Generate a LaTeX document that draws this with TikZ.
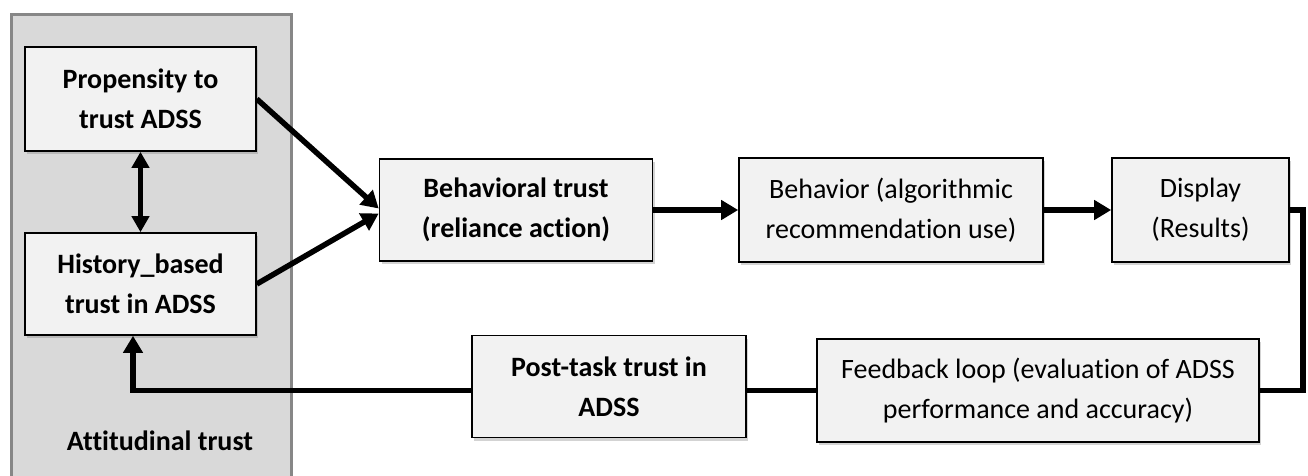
\documentclass[tikz,border=0pt]{standalone}
\usepackage{fontspec}
\setmainfont{Carlito}[Ligatures=NoCommon]
\usetikzlibrary{arrows.meta,shadows,positioning}
\definecolor{boxfill}{HTML}{F2F2F2}
\definecolor{groupfill}{HTML}{D9D9D9}
\definecolor{groupline}{HTML}{878787}
\tikzset{
  stepbox/.style={draw=black, line width=1.6pt, fill=boxfill, align=center,
    inner sep=0pt, font=\fontsize{28}{40}\selectfont,
    drop shadow={opacity=0.35, shadow xshift=2pt, shadow yshift=-3pt}},
  boldbox/.style={stepbox, font=\fontsize{28}{40}\selectfont\bfseries},
  flow/.style={line width=5.5pt, -{Triangle[length=17pt,width=19pt]}},
  flowline/.style={line width=5.5pt},
  twoway/.style={line width=5.5pt, {Triangle[length=16pt,width=17pt]}-{Triangle[length=16pt,width=17pt]}}
}
\begin{document}
\begin{tikzpicture}[x=1pt,y=-1pt]
\useasboundingbox (0,0) rectangle (1308,475);
% group container
\draw[draw=groupline, line width=3pt, fill=groupfill] (11.5,14.5) rectangle (291.5,490);
\node[font=\fontsize{28}{40}\selectfont\bfseries] (att) at (160,441) {Attitudinal trust};
% nodes
\node[boldbox, minimum width=231pt, minimum height=104pt] (prop) at (140.5,99) {Propensity to\\trust ADSS};
\node[boldbox, minimum width=231pt, minimum height=102pt] (hist) at (140.5,284) {History\_based\\trust in ADSS};
\node[boldbox, minimum width=273pt, minimum height=102pt] (btrust) at (516,210) {Behavioral trust\\(reliance action)};
\node[stepbox, minimum width=304pt, minimum height=104pt] (behav) at (891,210) {Behavior (algorithmic\\recommendation use)};
\node[stepbox, minimum width=177pt, minimum height=104pt] (disp) at (1200.5,210) {Display\\(Results)};
\node[stepbox, minimum width=442pt, minimum height=103pt] (feed) at (1038,390.5) {Feedback loop (evaluation of ADSS\\performance and accuracy)};
\node[boldbox, minimum width=274pt, minimum height=102pt] (post) at (609,386.5) {Post-task trust in\\ADSS};
% connectors
\draw[twoway] (prop.south) -- (hist.north);
\draw[flow] (prop.east) -- ([yshift=1.5pt]btrust.west);
\draw[flow] (hist.east) -- ([yshift=-3.5pt]btrust.west);
\draw[flow] (btrust.east) -- (behav.west);
\draw[flow] (behav.east) -- (disp.west);
\draw[flowline] (disp.east) -- ++(13,0) |- (feed.east);
\draw[flowline] (feed.west) -- (feed.west -| post.east);
\draw[flow] (feed.west -| post.west) -| ([xshift=-7.5pt]hist.south);
\end{tikzpicture}
\end{document}
